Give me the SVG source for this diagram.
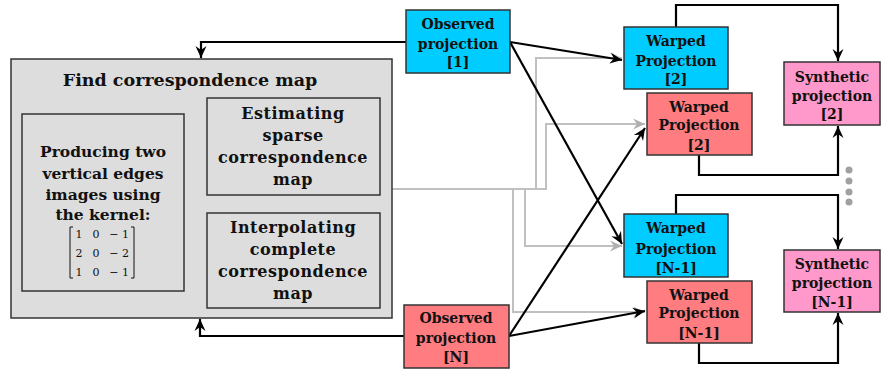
<svg xmlns="http://www.w3.org/2000/svg" width="881" height="369" viewBox="0 0 881 369">
<style>
.t{font-family:"DejaVu Serif","Liberation Serif",serif;font-weight:bold;text-anchor:middle;fill:#111;}
.s{font-size:14px;}
.m{font-size:15.5px;}
.r{font-size:16px;letter-spacing:0.5px;}
.k{font-family:"DejaVu Serif","Liberation Serif",serif;font-size:11px;fill:#111;}
.box{stroke:#333;stroke-width:1.5;}
.blue{fill:#00CCFF;}
.red{fill:#FF7C80;}
.pink{fill:#FF99CC;}
.gray{fill:#DDDDDD;}
.bk{fill:none;stroke:#000;stroke-width:2.2;}
.gr{fill:none;stroke:#C0C0C0;stroke-width:2;}
</style>
<defs>
<marker id="ab" markerUnits="userSpaceOnUse" markerWidth="14" markerHeight="14" viewBox="0 0 14 14" refX="13" refY="7" orient="auto">
<path d="M1,1.5 L13,7 L1,12.5 L5,7 z" fill="#000"/>
</marker>
<marker id="ag" markerUnits="userSpaceOnUse" markerWidth="14" markerHeight="14" viewBox="0 0 14 14" refX="13" refY="7" orient="auto">
<path d="M1,1.5 L13,7 L1,12.5 L5,7 z" fill="#B0B0B0"/>
</marker>
<marker id="as" markerUnits="userSpaceOnUse" markerWidth="8" markerHeight="8" viewBox="0 0 8 8" refX="7" refY="4" orient="auto">
<path d="M0,1 L7,4 L0,7 z" fill="#000"/>
</marker>
</defs>

<g id="connectors">
<path class="gr" d="M392,189 H536 V58 H622" marker-end="url(#ag)"/>
<path class="gr" d="M392,189 H546 V124 H645" marker-end="url(#ag)"/>
<path class="gr" d="M513,189 V312 H645" marker-end="url(#ag)"/>
<path class="gr" d="M525,189 V246 H622" marker-end="url(#ag)"/>
<path class="bk" d="M406,42 H201 V58" marker-end="url(#ab)"/>
<path class="bk" d="M404,336 H200 V319" marker-end="url(#ab)"/>
<path fill="none" stroke="#000" stroke-width="1" d="M184,202 H195 V146 H206" marker-end="url(#as)"/>
<path fill="none" stroke="#000" stroke-width="1" d="M293,195 V212" marker-end="url(#as)"/>
<path class="bk" d="M510,42 L622,60" marker-end="url(#ab)"/>
<path class="bk" d="M510,42 L622,244" marker-end="url(#ab)"/>
<path class="bk" d="M509,336 L645,128" marker-end="url(#ab)"/>
<path class="bk" d="M509,336 L645,311" marker-end="url(#ab)"/>
<path class="bk" d="M676,27 V5 H838 V61" marker-end="url(#ab)"/>
<path class="bk" d="M699,155 V175 H838 V126" marker-end="url(#ab)"/>
<path class="bk" d="M676,214 V195 H838 V249" marker-end="url(#ab)"/>
<path class="bk" d="M699,343 V363 H838 V313" marker-end="url(#ab)"/>
<g fill="#A0A0A0">
<circle cx="849" cy="170" r="3.5"/>
<circle cx="849" cy="181" r="3.5"/>
<circle cx="849" cy="192" r="3.5"/>
<circle cx="849" cy="202" r="3.5"/>
</g>
</g>

<g id="find-map">
<rect class="box gray" x="11" y="59" width="381" height="259"/>
<text class="t" x="190" y="86" font-size="17.5">Find correspondence map</text>
</g>

<g id="producing">
<rect class="box gray" x="22" y="114" width="162" height="177"/>
<text class="t m" x="103" y="157">Producing two</text>
<text class="t m" x="103" y="179">vertical edges</text>
<text class="t m" x="103" y="200">images using</text>
<text class="t m" x="103" y="220">the kernel:</text>
<path d="M73,227 H70 V278 H73 M131,227 H134 V278 H131" fill="none" stroke="#111" stroke-width="1"/>
<text class="k" x="79" y="238" text-anchor="middle">1</text>
<text class="k" x="96" y="238" text-anchor="middle">0</text>
<text class="k" x="129" y="238" text-anchor="end">− 1</text>
<text class="k" x="79" y="257" text-anchor="middle">2</text>
<text class="k" x="96" y="257" text-anchor="middle">0</text>
<text class="k" x="129" y="257" text-anchor="end">− 2</text>
<text class="k" x="79" y="276" text-anchor="middle">1</text>
<text class="k" x="96" y="276" text-anchor="middle">0</text>
<text class="k" x="129" y="276" text-anchor="end">− 1</text>
</g>

<g id="estimating">
<rect class="box gray" x="207" y="98" width="173" height="97"/>
<text class="t r" x="293" y="119">Estimating</text>
<text class="t r" x="293" y="141">sparse</text>
<text class="t r" x="293" y="163">correspondence</text>
<text class="t r" x="293" y="185">map</text>
</g>

<g id="interpolating">
<rect class="box gray" x="207" y="213" width="173" height="95"/>
<text class="t r" x="293" y="233">Interpolating</text>
<text class="t r" x="293" y="255">complete</text>
<text class="t r" x="293" y="277">correspondence</text>
<text class="t r" x="293" y="299">map</text>
</g>

<g id="obs1">
<rect class="box blue" x="406" y="10" width="104" height="63"/>
<text class="t s" x="458" y="29">Observed</text>
<text class="t s" x="458" y="49">projection</text>
<text class="t s" x="458" y="67">[1]</text>
</g>

<g id="obsN">
<rect class="box red" x="404" y="305" width="105" height="63"/>
<text class="t s" x="456" y="323">Observed</text>
<text class="t s" x="456" y="343">projection</text>
<text class="t s" x="456" y="362">[N]</text>
</g>

<g id="warped-blue-2">
<rect class="box blue" x="624" y="27" width="104" height="62"/>
<text class="t s" x="676" y="46">Warped</text>
<text class="t s" x="676" y="66">Projection</text>
<text class="t s" x="676" y="84">[2]</text>
</g>

<g id="warped-red-2">
<rect class="box red" x="647" y="93" width="105" height="62"/>
<text class="t s" x="699" y="112">Warped</text>
<text class="t s" x="699" y="130">Projection</text>
<text class="t s" x="699" y="150">[2]</text>
</g>

<g id="synth-2">
<rect class="box pink" x="784" y="62" width="96" height="63"/>
<text class="t s" x="832" y="82">Synthetic</text>
<text class="t s" x="832" y="101">projection</text>
<text class="t s" x="832" y="119">[2]</text>
</g>

<g id="warped-blue-n1">
<rect class="box blue" x="624" y="214" width="104" height="63"/>
<text class="t s" x="676" y="233">Warped</text>
<text class="t s" x="676" y="254">Projection</text>
<text class="t s" x="676" y="273">[N-1]</text>
</g>

<g id="warped-red-n1">
<rect class="box red" x="647" y="281" width="105" height="62"/>
<text class="t s" x="699" y="300">Warped</text>
<text class="t s" x="699" y="318">Projection</text>
<text class="t s" x="699" y="338">[N-1]</text>
</g>

<g id="synth-n1">
<rect class="box pink" x="784" y="250" width="96" height="62"/>
<text class="t s" x="832" y="269">Synthetic</text>
<text class="t s" x="832" y="288">projection</text>
<text class="t s" x="832" y="307">[N-1]</text>
</g>
</svg>
